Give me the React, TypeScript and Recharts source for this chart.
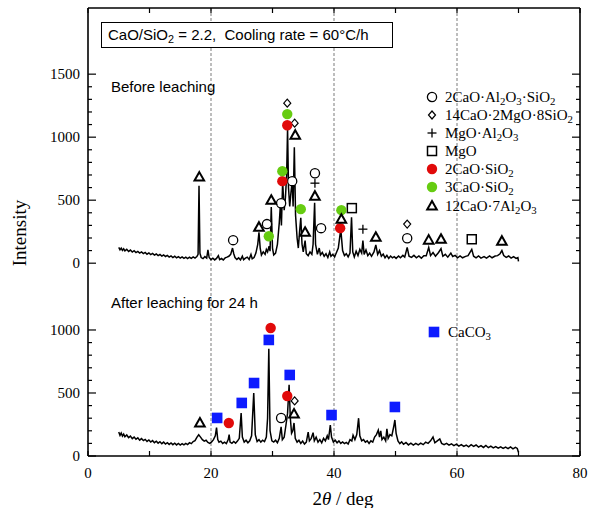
import React from 'react';
import { ComposedChart, Line, Scatter, XAxis, YAxis, ReferenceLine } from 'recharts';

const W = 589;
const H = 508;
// the "before" pattern is stacked above the "after" one on a shared intensity axis
const SHIFT = 1530;

const thetaTicks = [0, 10, 20, 30, 40, 50, 60, 70, 80];
const lowerTicks = [0, 100, 200, 300, 400, 500, 600, 700, 800, 900, 1000];
const upperTicks = [0, 100, 200, 300, 400, 500, 600, 700, 800, 900, 1000, 1100, 1200, 1300, 1400, 1500];
const guideLines = [20, 40, 60];

// 2θ (deg), intensity — before leaching
const beforeScan: [number, number][] = [
  [5.0, 125], [5.2, 106], [5.4, 120], [5.6, 102], [5.8, 114], [6.0, 98], [6.3, 110], [6.6, 93], [6.9, 104],
  [7.2, 88], [7.5, 99], [7.8, 84], [8.1, 94], [8.4, 80], [8.7, 90], [9.0, 76], [9.3, 86], [9.6, 71], [9.9, 81],
  [10.2, 68], [10.5, 77], [10.8, 64], [11.1, 73], [11.4, 60], [11.7, 69], [12.0, 56], [12.3, 65], [12.6, 53],
  [12.9, 62], [13.2, 48], [13.5, 58], [13.8, 45], [14.1, 55], [14.4, 42], [14.7, 52], [15.0, 40], [15.3, 50],
  [15.6, 38], [15.9, 48], [16.2, 36], [16.5, 47], [16.8, 38], [17.1, 50], [17.4, 40], [17.7, 52], [17.9, 70],
  [18.05, 615], [18.2, 80], [18.4, 45], [18.7, 36], [19.0, 52], [19.3, 40], [19.5, 105], [19.7, 45], [20.0, 28],
  [20.3, 40], [20.6, 26], [20.9, 38], [21.2, 60], [21.4, 28], [21.7, 37], [22.0, 26], [22.3, 42], [22.6, 48],
  [22.9, 55], [23.2, 70], [23.5, 120], [23.7, 75], [23.9, 45], [24.2, 30], [24.5, 42], [24.8, 26], [25.1, 55],
  [25.3, 28], [25.6, 40], [25.9, 48], [26.2, 30], [26.5, 70], [26.7, 35], [27.0, 45], [27.3, 80], [27.6, 150],
  [27.8, 245], [28.0, 120], [28.2, 65], [28.5, 90], [28.8, 70], [29.0, 110], [29.2, 90], [29.45, 135], [29.6, 95],
  [29.8, 445], [30.0, 120], [30.2, 65], [30.5, 80], [30.8, 150], [31.1, 320], [31.3, 475], [31.45, 300],
  [31.65, 645], [31.9, 420], [32.1, 520], [32.3, 700], [32.45, 1070], [32.6, 600], [32.8, 450], [33.0, 560],
  [33.2, 650], [33.35, 450], [33.55, 920], [33.75, 380], [34.0, 200], [34.2, 120], [34.4, 250], [34.6, 360],
  [34.8, 150], [35.0, 90], [35.3, 180], [35.5, 75], [35.8, 60], [36.1, 90], [36.4, 70], [36.6, 150], [36.85, 480],
  [37.0, 150], [37.3, 70], [37.6, 120], [37.8, 65], [38.1, 85], [38.4, 55], [38.7, 75], [39.0, 45], [39.3, 90],
  [39.5, 55], [39.8, 70], [40.1, 50], [40.4, 85], [40.7, 120], [41.1, 270], [41.4, 100], [41.7, 60], [42.0, 75],
  [42.3, 50], [42.6, 80], [42.85, 365], [43.05, 90], [43.3, 50], [43.6, 95], [43.9, 60], [44.2, 110], [44.5, 80],
  [44.7, 180], [44.9, 70], [45.2, 105], [45.5, 60], [45.8, 80], [46.1, 55], [46.5, 90], [46.8, 145], [47.1, 70],
  [47.4, 100], [47.7, 55], [48.0, 72], [48.3, 43], [48.6, 62], [48.9, 38], [49.2, 57], [49.5, 43], [49.8, 52],
  [50.1, 38], [50.5, 57], [50.8, 43], [51.2, 62], [51.5, 48], [51.9, 125], [52.2, 55], [52.6, 46], [53.0, 62],
  [53.4, 43], [53.8, 57], [54.2, 40], [54.6, 60], [55.0, 60], [55.4, 125], [55.7, 60], [56.1, 85], [56.5, 55],
  [57.0, 85], [57.4, 115], [57.7, 55], [58.1, 70], [58.5, 48], [59.0, 80], [59.3, 53], [59.7, 62], [60.1, 43],
  [60.5, 57], [60.9, 43], [61.4, 54], [61.8, 60], [62.4, 110], [62.7, 55], [63.1, 43], [63.5, 57], [63.9, 40],
  [64.4, 52], [64.8, 40], [65.3, 57], [65.7, 43], [66.2, 57], [66.6, 60], [67.0, 75], [67.3, 100], [67.6, 60],
  [68.0, 46], [68.4, 57], [68.8, 40], [69.2, 52], [69.6, 38], [69.9, 45], [70.0, 15],
];

// 2θ (deg), intensity — after leaching for 24 h
const afterScan: [number, number][] = [
  [5.0, 190], [5.2, 163], [5.4, 182], [5.6, 158], [5.8, 174], [6.0, 153], [6.3, 167], [6.6, 146], [6.9, 158],
  [7.2, 138], [7.5, 150], [7.8, 133], [8.1, 144], [8.4, 126], [8.7, 138], [9.0, 122], [9.3, 132], [9.6, 116],
  [9.9, 127], [10.2, 111], [10.5, 122], [10.8, 106], [11.1, 117], [11.4, 102], [11.7, 113], [12.0, 98],
  [12.3, 110], [12.6, 95], [12.9, 106], [13.2, 92], [13.5, 103], [13.8, 90], [14.1, 101], [14.4, 88], [14.7, 99],
  [15.0, 87], [15.3, 98], [15.6, 88], [15.9, 100], [16.2, 91], [16.5, 106], [16.8, 98], [17.1, 115], [17.4, 122],
  [17.7, 148], [18.0, 168], [18.3, 150], [18.6, 130], [18.9, 118], [19.2, 125], [19.5, 108], [19.8, 100],
  [20.1, 112], [20.4, 130], [20.7, 160], [20.9, 225], [21.1, 130], [21.3, 110], [21.6, 118], [21.9, 100],
  [22.2, 110], [22.5, 98], [22.8, 130], [22.95, 170], [23.1, 110], [23.4, 100], [23.7, 115], [24.0, 102],
  [24.3, 118], [24.6, 140], [24.9, 340], [25.1, 150], [25.4, 110], [25.7, 125], [26.0, 105], [26.3, 120],
  [26.6, 160], [26.95, 500], [27.2, 170], [27.5, 115], [27.8, 130], [28.1, 110], [28.4, 125], [28.7, 115],
  [29.0, 150], [29.2, 300], [29.4, 850], [29.6, 200], [29.9, 120], [30.2, 110], [30.5, 125], [30.8, 105],
  [31.1, 140], [31.4, 232], [31.6, 130], [31.9, 150], [32.2, 250], [32.45, 340], [32.7, 565], [32.9, 300],
  [33.1, 180], [33.3, 200], [33.5, 262], [33.7, 140], [34.0, 110], [34.3, 125], [34.6, 100], [34.9, 118],
  [35.2, 95], [35.5, 110], [35.8, 190], [36.0, 120], [36.3, 140], [36.6, 185], [36.8, 120], [37.1, 150],
  [37.4, 110], [37.7, 130], [38.0, 105], [38.3, 140], [38.6, 120], [38.9, 160], [39.1, 130], [39.4, 246],
  [39.6, 150], [39.9, 110], [40.2, 125], [40.5, 105], [40.8, 120], [41.1, 100], [41.4, 112], [41.7, 98],
  [42.0, 108], [42.3, 95], [42.6, 130], [42.9, 120], [43.1, 165], [43.4, 130], [43.7, 170], [44.0, 300],
  [44.2, 160], [44.5, 120], [44.8, 130], [45.1, 110], [45.4, 120], [45.7, 100], [46.0, 120], [46.3, 110],
  [46.6, 150], [46.9, 170], [47.2, 205], [47.4, 150], [47.6, 200], [47.8, 130], [48.1, 150], [48.4, 120],
  [48.6, 215], [48.8, 140], [49.1, 170], [49.4, 160], [49.7, 230], [49.9, 286], [50.1, 180], [50.4, 120],
  [50.7, 98], [51.0, 112], [51.3, 93], [51.7, 107], [52.1, 88], [52.5, 102], [52.9, 86], [53.3, 100], [53.7, 88],
  [54.1, 102], [54.5, 90], [54.9, 110], [55.3, 100], [55.7, 120], [56.1, 150], [56.4, 105], [56.8, 120],
  [57.2, 135], [57.5, 100], [57.9, 90], [58.3, 100], [58.7, 86], [59.1, 97], [59.5, 83], [59.9, 94], [60.3, 78],
  [60.7, 90], [61.1, 76], [61.5, 87], [61.9, 73], [62.3, 90], [62.7, 76], [63.1, 87], [63.5, 70], [63.9, 82],
  [64.3, 68], [64.7, 84], [65.1, 66], [65.5, 78], [65.9, 64], [66.3, 74], [66.7, 62], [67.1, 72], [67.5, 60],
  [67.9, 70], [68.3, 58], [68.7, 72], [69.1, 56], [69.5, 68], [69.8, 60], [70.0, 30],
];

// phase markers, before leaching
const beforeC2AS: [number, number][] = [[23.6, 183], [29.1, 310], [31.4, 476], [33.2, 651], [36.9, 714], [37.9, 278], [51.9, 198]];
const beforeC14M2S8: [number, number][] = [[32.4, 1270], [33.6, 1111], [51.9, 310]];
const beforeMA: [number, number][] = [[36.9, 635], [44.7, 270]];
const beforeMgO: [number, number][] = [[42.9, 437], [62.4, 190]];
const beforeC2S: [number, number][] = [[32.4, 1095], [31.6, 651], [41.0, 278]];
const beforeC3S: [number, number][] = [[32.4, 1183], [31.6, 730], [29.4, 214], [34.6, 429], [41.2, 421]];
const beforeC12A7: [number, number][] = [
  [18.1, 683], [27.8, 286], [29.8, 500], [33.7, 1016], [35.3, 246], [36.9, 532], [41.2, 349],
  [46.8, 206], [55.4, 183], [57.4, 190], [67.3, 175],
];

// phase markers, after leaching
const afterC12A7: [number, number][] = [[18.2, 262], [33.5, 333]];
const afterCaCO3: [number, number][] = [[21.0, 302], [25.0, 421], [27.0, 579], [29.4, 921], [32.8, 643], [39.6, 325], [49.9, 389]];
const afterC2S: [number, number][] = [[22.9, 262], [29.7, 1016], [32.4, 476]];
const afterC2AS: [number, number][] = [[31.4, 302]];
const afterC14M2S8: [number, number][] = [[33.6, 437]];

const RED = '#e10a0a';
const GREEN = '#66cc11';
const BLUE = '#0d1bff';

const toPts = (arr: [number, number][], shift = 0) => arr.map(([t, i]) => ({ t, v: i + shift }));

type Kind = 'circle' | 'diamond' | 'plus' | 'square' | 'red' | 'green' | 'tri' | 'blue';

const Mark = ({ kind, cx, cy }: { kind: Kind; cx: number; cy: number }) => {
  switch (kind) {
    case 'circle':
      return <circle cx={cx} cy={cy} r={4.6} fill="#fff" stroke="#000" strokeWidth={1.3} />;
    case 'diamond':
      return <polygon points={`${cx},${cy - 4} ${cx + 3.5},${cy} ${cx},${cy + 4} ${cx - 3.5},${cy}`} fill="#fff" stroke="#000" strokeWidth={1.2} />;
    case 'plus':
      return (
        <g stroke="#000" strokeWidth={1.3}>
          <line x1={cx - 4.5} x2={cx + 4.5} y1={cy} y2={cy} />
          <line x1={cx} x2={cx} y1={cy - 4.5} y2={cy + 4.5} />
        </g>
      );
    case 'square':
      return <rect x={cx - 4.5} y={cy - 4.5} width={9} height={9} fill="#fff" stroke="#000" strokeWidth={1.5} />;
    case 'red':
      return <circle cx={cx} cy={cy} r={5.2} fill={RED} />;
    case 'green':
      return <circle cx={cx} cy={cy} r={5.2} fill={GREEN} />;
    case 'tri':
      return <polygon points={`${cx},${cy - 5} ${cx + 4.8},${cy + 3.5} ${cx - 4.8},${cy + 3.5}`} fill="#fff" stroke="#000" strokeWidth={2} strokeLinejoin="miter" />;
    case 'blue':
      return <rect x={cx - 5.3} y={cy - 5.3} width={10.6} height={10.6} fill={BLUE} />;
  }
  return null;
};

const shapeOf = (kind: Kind) => (p: any) => <Mark kind={kind} cx={p.cx} cy={p.cy} />;

const serif = '"Liberation Serif", "Times New Roman", serif';
const sans = '"Liberation Sans", Arial, sans-serif';

const LeftTick = (p: any) => {
  const v = p.payload.value;
  const shown = v >= SHIFT ? v - SHIFT : v;
  const major = shown % 500 === 0;
  return (
    <g>
      <line x1={p.x} x2={p.x + (major ? 8 : 4)} y1={p.y} y2={p.y} stroke="#000" strokeWidth={1.2} />
      {major && (
        <text x={p.x - 8} y={p.y + 5} textAnchor="end" fontFamily={serif} fontSize={15} fill="#000">
          {shown}
        </text>
      )}
    </g>
  );
};

const RightTick = (p: any) => {
  const v = p.payload.value;
  const shown = v >= SHIFT ? v - SHIFT : v;
  const major = shown % 500 === 0;
  return <line x1={p.x} x2={p.x - (major ? 8 : 4)} y1={p.y} y2={p.y} stroke="#000" strokeWidth={1.2} />;
};

const BottomTick = (p: any) => {
  const v = p.payload.value;
  return (
    <g>
      <line x1={p.x} x2={p.x} y1={p.y} y2={p.y - 5} stroke="#000" strokeWidth={1.2} />
      {v % 20 === 0 && (
        <text x={p.x} y={p.y + 22} textAnchor="middle" fontFamily={serif} fontSize={15} fill="#000">
          {v}
        </text>
      )}
    </g>
  );
};

const TopTick = (p: any) => <line x1={p.x} x2={p.x} y1={p.y} y2={p.y + 5} stroke="#000" strokeWidth={1.2} />;

const sub: React.CSSProperties = { fontSize: '0.72em', verticalAlign: '-0.3em', lineHeight: 0 };

const legendRows: { kind: Kind; label: React.ReactNode }[] = [
  { kind: 'circle', label: <>2CaO·Al<sub style={sub}>2</sub>O<sub style={sub}>3</sub>·SiO<sub style={sub}>2</sub></> },
  { kind: 'diamond', label: <>14CaO·2MgO·8SiO<sub style={sub}>2</sub></> },
  { kind: 'plus', label: <>MgO·Al<sub style={sub}>2</sub>O<sub style={sub}>3</sub></> },
  { kind: 'square', label: <>MgO</> },
  { kind: 'red', label: <>2CaO·SiO<sub style={sub}>2</sub></> },
  { kind: 'green', label: <>3CaO·SiO<sub style={sub}>2</sub></> },
  { kind: 'tri', label: <>12CaO·7Al<sub style={sub}>2</sub>O<sub style={sub}>3</sub></> },
];
const legendY = [97, 115, 133, 151, 169, 187, 206];

const Icon = ({ kind }: { kind: Kind }) => (
  <svg width={14} height={14} style={{ position: 'absolute', left: -7, top: -7, overflow: 'visible' }}>
    <Mark kind={kind} cx={7} cy={7} />
  </svg>
);

const upperSeries: { kind: Kind; data: [number, number][] }[] = [
  { kind: 'circle', data: beforeC2AS },
  { kind: 'diamond', data: beforeC14M2S8 },
  { kind: 'plus', data: beforeMA },
  { kind: 'square', data: beforeMgO },
  { kind: 'red', data: beforeC2S },
  { kind: 'green', data: beforeC3S },
  { kind: 'tri', data: beforeC12A7 },
];
const lowerSeries: { kind: Kind; data: [number, number][] }[] = [
  { kind: 'tri', data: afterC12A7 },
  { kind: 'blue', data: afterCaCO3 },
  { kind: 'red', data: afterC2S },
  { kind: 'circle', data: afterC2AS },
  { kind: 'diamond', data: afterC14M2S8 },
];

const yDomain = [0, 3555];
const yTicks = [...lowerTicks, ...upperTicks.map((t) => t + SHIFT)];

export default function App() {
  return (
    <div style={{ position: 'absolute', left: 0, top: 0, width: W, height: H, background: '#fff', overflow: 'hidden' }}>
      <ComposedChart width={W} height={H} margin={{ top: 0, right: 0, bottom: 0, left: 0 }}>
        <XAxis xAxisId="b" type="number" dataKey="t" domain={[0, 80]} ticks={thetaTicks} interval={0}
          height={52} tickSize={0} tickMargin={0} tickLine={false} tick={BottomTick}
          axisLine={{ stroke: '#000', strokeWidth: 1.6 }} allowDataOverflow />
        <XAxis xAxisId="t" orientation="top" type="number" dataKey="t" domain={[0, 80]} ticks={thetaTicks} interval={0}
          height={8} tickSize={0} tickMargin={0} tickLine={false} tick={TopTick}
          axisLine={{ stroke: '#000', strokeWidth: 1.6 }} allowDataOverflow />
        <YAxis yAxisId="l" type="number" dataKey="v" domain={yDomain} ticks={yTicks} interval={0}
          width={88} tickSize={0} tickMargin={0} tickLine={false} tick={LeftTick}
          axisLine={{ stroke: '#000', strokeWidth: 1.6 }} allowDataOverflow />
        <YAxis yAxisId="r" orientation="right" type="number" dataKey="v" domain={yDomain} ticks={yTicks} interval={0}
          width={9} tickSize={0} tickMargin={0} tickLine={false} tick={RightTick}
          axisLine={{ stroke: '#000', strokeWidth: 1.6 }} allowDataOverflow />

        {guideLines.map((g) => (
          <ReferenceLine key={g} x={g} xAxisId="b" yAxisId="l" stroke="#9a9a9a" strokeWidth={1.3} strokeDasharray="3 2" />
        ))}

        <Line xAxisId="b" yAxisId="l" data={toPts(afterScan)} dataKey="v" type="linear" stroke="#000"
          strokeWidth={1.5} dot={false} isAnimationActive={false} />
        <Line xAxisId="t" yAxisId="r" data={toPts(beforeScan, SHIFT)} dataKey="v" type="linear" stroke="#000"
          strokeWidth={1.5} dot={false} isAnimationActive={false} />

        {upperSeries.map((s, i) => (
          <Scatter key={'u' + i} xAxisId="t" yAxisId="r" data={toPts(s.data, SHIFT)} dataKey="v"
            shape={shapeOf(s.kind)} isAnimationActive={false} />
        ))}
        {lowerSeries.map((s, i) => (
          <Scatter key={'l' + i} xAxisId="b" yAxisId="l" data={toPts(s.data)} dataKey="v"
            shape={shapeOf(s.kind)} isAnimationActive={false} />
        ))}
      </ComposedChart>

      <div style={{ position: 'absolute', left: 101, top: 22, width: 284, height: 24, border: '1px solid #000',
        background: '#fff', fontFamily: sans, fontSize: 15, lineHeight: '24px', paddingLeft: 6, boxSizing: 'content-box',
        whiteSpace: 'nowrap' }}>
        CaO/SiO<sub style={sub}>2</sub> = 2.2,&nbsp; Cooling rate = 60°C/h
      </div>
      <div style={{ position: 'absolute', left: 111, top: 78, fontFamily: sans, fontSize: 15, lineHeight: '18px', whiteSpace: 'nowrap' }}>
        Before leaching
      </div>
      <div style={{ position: 'absolute', left: 111, top: 294, fontFamily: sans, fontSize: 15, lineHeight: '18px', whiteSpace: 'nowrap' }}>
        After leaching for 24 h
      </div>

      {legendRows.map((r, i) => (
        <div key={i} style={{ position: 'absolute', left: 432, top: legendY[i] }}>
          <Icon kind={r.kind} />
          <div style={{ position: 'absolute', left: 13, top: -9, fontFamily: serif, fontSize: 15, lineHeight: '18px', whiteSpace: 'nowrap' }}>
            {r.label}
          </div>
        </div>
      ))}
      <div style={{ position: 'absolute', left: 434, top: 332 }}>
        <Icon kind="blue" />
        <div style={{ position: 'absolute', left: 14, top: -9, fontFamily: serif, fontSize: 15, lineHeight: '18px', whiteSpace: 'nowrap' }}>
          CaCO<sub style={sub}>3</sub>
        </div>
      </div>

      <div style={{ position: 'absolute', left: 20, top: 233, transform: 'translate(-50%, -50%) rotate(-90deg)',
        fontFamily: serif, fontSize: 19, whiteSpace: 'nowrap' }}>
        Intensity
      </div>
      <div style={{ position: 'absolute', left: 343, top: 499, transform: 'translate(-50%, -50%)',
        fontFamily: serif, fontSize: 19, whiteSpace: 'nowrap' }}>
        2<i>θ</i> / deg
      </div>
    </div>
  );
}
